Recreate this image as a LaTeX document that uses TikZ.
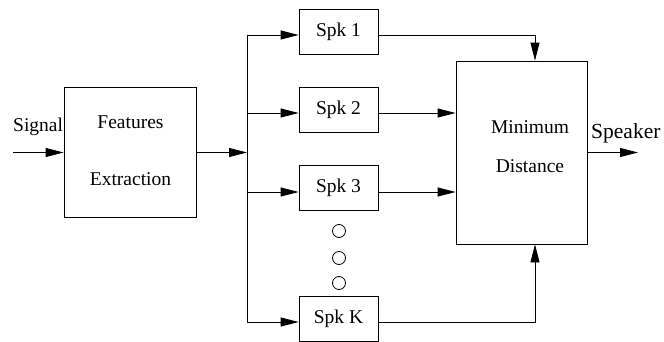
\documentclass[tikz,border=0pt]{standalone}
\usepackage{fontspec}
\setmainfont{Liberation Serif}
\usetikzlibrary{arrows.meta}
\tikzset{
  blk/.style={draw, line width=0.8pt, inner sep=0pt},
  lbl/.style={font=\fontsize{19.5}{22}\selectfont, inner sep=0pt},
  wire/.style={line width=0.8pt},
  arr/.style={wire, -{Triangle[length=18pt,width=9pt]}},
  dot/.style={draw, circle, line width=0.8pt, minimum size=13pt, inner sep=0pt},
}

\begin{document}
\begin{tikzpicture}[x=1pt,y=1pt]
  \useasboundingbox (0,0) rectangle (664,341);

  \node[blk, minimum width=132pt, minimum height=130pt] (feat) at (130,188.5) {};
  \node[lbl, align=center] (feattxt) at (130.5,190.5) {Features\\[35pt]Extraction};

  \node[blk, lbl, minimum width=79pt, minimum height=45pt] (spk1) at (338.5,309.5) {Spk 1};
  \node[blk, lbl, minimum width=79pt, minimum height=45pt] (spk2) at (338.5,231) {Spk 2};
  \node[blk, lbl, minimum width=79pt, minimum height=45pt] (spk3) at (338.5,153) {Spk 3};
  \node[blk, lbl, minimum width=79pt, minimum height=45pt] (spkK) at (338.5,22) {Spk K};
  \foreach \i/\y in {1/110,2/83,3/58}
    \node[dot] (dot\i) at (339,\y) {};

  \node[blk, minimum width=131pt, minimum height=183pt] (mind) at (521.5,188.5) {};
  \node[lbl, align=center] (mindtxt) at (530,194.5) {Minimum\\[17pt]Distance};

  \node[lbl, anchor=base west] (sig) at (13,210) {Signal};
  \node[lbl, font=\fontsize{21.5}{24}\selectfont, anchor=base west] (spkr) at (591,203) {Speaker};

  \coordinate (in) at (13,0);
  \coordinate (out) at (638,0);
  \coordinate (mx) at (535,0);
  \coordinate (b1) at (247,306);
  \coordinate (b2) at (247,228);
  \coordinate (b3) at (247,149);
  \coordinate (bK) at (247,19);

  \draw[arr] (feat.west -| in) -- (feat.west);
  \draw[arr] (feat.east) -- (feat.east -| b1);
  \draw[wire] (b1) -- (bK);
  \draw[arr] (b1) -- (b1 -| spk1.west);
  \draw[arr] (b2) -- (b2 -| spk2.west);
  \draw[arr] (b3) -- (b3 -| spk3.west);
  \draw[arr] (bK) -- (bK -| spkK.west);

  \draw[arr] (b1 -| spk1.east) -| (mx |- mind.north);
  \draw[arr] (b2 -| spk2.east) -- (b2 -| mind.west);
  \draw[arr] (b3 -| spk3.east) -- (b3 -| mind.west);
  \draw[arr] (bK -| spkK.east) -| (mx |- mind.south);
  \draw[arr] (mind.east) -- (mind.east -| out);
\end{tikzpicture}
\end{document}
